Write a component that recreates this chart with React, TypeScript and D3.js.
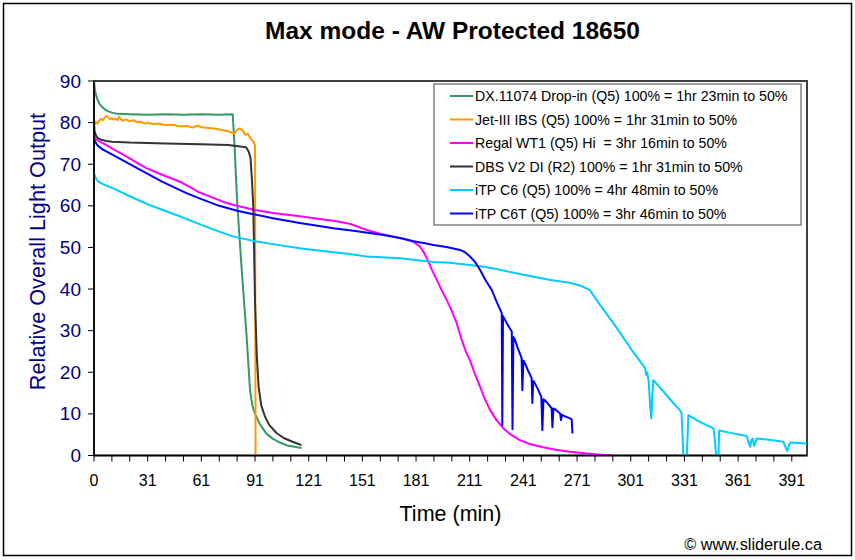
import React from "react";
import * as d3 from "d3";

const TITLE = "Max mode - AW Protected 18650";
const X_LABEL = "Time (min)";
const Y_LABEL = "Relative Overall Light Output";
const CREDIT = "© www.sliderule.ca";

const X_TICK_POS = [0, 30, 60, 90, 120, 150, 180, 210, 240, 270, 300, 330, 360, 390];
const X_TICK_LABELS = ["0", "31", "61", "91", "121", "151", "181", "211", "241", "271", "301", "331", "361", "391"];
const Y_TICKS = [0, 10, 20, 30, 40, 50, 60, 70, 80, 90];

const SERIES_NAMES = [
  "DX.11074 Drop-in (Q5) 100% = 1hr 23min to 50%",
  "Jet-III IBS (Q5) 100% = 1hr 31min to 50%",
  "Regal WT1 (Q5) Hi  = 3hr 16min to 50%",
  "DBS V2 DI (R2) 100% = 1hr 31min to 50%",
  "iTP C6 (Q5) 100% = 4hr 48min to 50%",
  "iTP C6T (Q5) 100% = 3hr 46min to 50%",
];
const SERIES_COLORS = ["#339966", "#FF9900", "#FF00FF", "#333333", "#00CCFF", "#0000FF"];

const dxData: [number, number][] = [
  [0, 90], [0.5, 88], [1, 86.8], [2, 85.5], [3, 84.6], [4, 84], [6, 83.2], [8, 82.7], [10, 82.4], [13, 82.1],
  [20, 82], [30, 81.9], [40, 82], [50, 81.9], [60, 82], [70, 81.9], [77.5, 82], [78.5, 75], [80, 61],
  [82.5, 45], [85.3, 28.6], [87.2, 15.7], [88.5, 12], [90, 10], [93, 7.3], [96.5, 5.2], [100, 4],
  [104, 3.1], [108, 2.4], [112, 2.1], [116, 1.8],
];
const jetData: [number, number][] = [
  [0, 79.5], [1, 80.2], [2, 79.8], [3, 80.5], [4, 80.9], [5, 80.6], [6, 81.2], [7, 81.6], [8, 81.3], [9, 80.8],
  [10, 81.1], [11, 80.7], [12, 81], [13, 80.6], [14, 81.4], [15, 80.9], [16, 80.4], [18, 80.8], [20, 80.3],
  [22, 80.6], [24, 80.1], [26, 80.2], [28, 79.8], [30, 80], [33, 79.6], [36, 79.8], [40, 79.4], [44, 79.5],
  [48, 79.1], [52, 79.2], [55, 78.8], [58, 79.3], [60, 78.9], [64, 78.7], [68, 78.5], [72, 78.2], [75, 77.9],
  [77, 77.6], [78.5, 77.4], [80, 78.3], [81.5, 78.6], [83, 78.2], [84.5, 77.1], [86, 77.3], [87.5, 76.2],
  [89, 75.5], [90, 74.5], [90.3, 0],
];
const regalData: [number, number][] = [
  [0, 77], [1, 76], [3, 75.5], [7, 74.6], [12, 73.3], [20, 71.4], [25, 70.1], [29.5, 69], [35, 68], [42, 66.8],
  [48, 65.8], [55, 64.2], [59, 63.2], [65, 62.2], [72, 61], [78, 60.2], [90, 59], [100, 58.3], [115, 57.5],
  [125, 56.9], [133.8, 56.4], [143, 55.7], [152.4, 54.2], [160, 53.3], [167.3, 52.6], [173, 52], [178.5, 51.4],
  [182.2, 50.2], [184.5, 48.7], [186.9, 46.6], [189, 44.5], [191.6, 42.2], [194, 40], [197.1, 37.4], [200, 34.7],
  [202.7, 31.8], [205.5, 27.8], [208, 24.8], [210, 23], [213, 19.5], [215.8, 16.5], [218.5, 13.5], [221.4, 10.9],
  [225, 8.5], [228.8, 6.5], [233, 5], [238, 3.7], [244, 2.7], [251, 2], [258, 1.4], [266, 0.9], [275, 0.5],
  [283, 0.2], [290, 0.1],
];
const dbsData: [number, number][] = [
  [0, 80.5], [0.3, 78], [1, 77], [2, 76.3], [4, 75.9], [7, 75.6], [10, 75.4], [20, 75.2], [40, 75], [60, 74.8],
  [75, 74.6], [85, 74.1], [86.5, 73], [87.5, 71.5], [88.3, 66], [89, 60], [90, 37], [91, 24], [92, 16.5],
  [93.5, 12], [95.6, 9.3], [98, 7.3], [102, 5.4], [106, 4.2], [111, 3.3], [116, 2.5],
];
const c6Data: [number, number][] = [
  [0, 68], [0.8, 66.8], [2.4, 65.8], [5, 65.2], [10.8, 64.2], [20, 62.3], [31, 60.2], [46, 57.8], [59, 55.6],
  [70, 53.8], [78, 52.6], [90, 51.5], [100, 50.8], [115, 49.8], [130, 49], [143, 48.4], [152.4, 47.8],
  [171, 47.4], [189.7, 46.5], [199, 46.3], [216, 45.5], [225, 44.8], [238, 43.6], [248, 42.8], [255, 42.2],
  [266, 41.5], [272, 40.8], [277, 39.8], [282.8, 36.2], [290, 32], [300, 25.7], [308, 21], [308.6, 19.4],
  [309.2, 20], [310.1, 17.4], [310.8, 12], [311.5, 8.9], [312, 14], [312.6, 18.1], [318, 15.5], [324, 12.5],
  [327.5, 10.9], [328.4, 10.1], [329.2, 2], [329.4, 0], [331.3, 0], [331.8, 5], [332.2, 9.7], [338, 8.2],
  [346.2, 6.5], [347, 4], [347.7, 0], [349, 0], [349.4, 6], [355, 5.5], [364.8, 4.7], [365.8, 3.2], [366.7, 2.1],
  [367.5, 3.8], [368.2, 4.1], [369, 2.3], [370.4, 4.1], [378, 3.7], [385.3, 3.3], [386.5, 2], [387.5, 1.1],
  [388.5, 2.6], [389.4, 3.1], [398.4, 2.9],
];
const c6tData: [number, number][] = [
  [0, 76], [0.5, 75.5], [2, 74.5], [5, 73.5], [10.8, 72.2], [20, 70], [29.5, 67.8], [38, 65.8], [46, 64.2],
  [52, 63], [59, 61.8], [70, 60], [80, 58.8], [89, 58], [100, 57], [115, 55.9], [125, 55.2], [133.8, 54.6],
  [145, 54], [161.7, 53], [172, 52.2], [178.5, 51.5], [185, 51], [189.7, 50.6], [197, 50.1], [204.6, 49.4],
  [207.5, 48.8], [210.2, 47.8], [213, 46.5], [215.8, 44.6], [219, 42], [222.3, 39.8], [225, 37], [227.9, 34.2],
  [228.2, 7.3], [228.6, 33.5], [229.7, 32.6], [231.5, 31.2], [233.5, 29.8], [233.9, 6.3], [234.4, 28.5],
  [235.3, 27.8], [237, 25.6], [239, 23.4], [239.4, 15.7], [240, 22.8], [240.5, 22.5], [242.5, 20.5],
  [244.6, 18.6], [245, 12.6], [245.5, 17.9], [246, 17.7], [248, 16], [250, 14.1], [250.6, 6.1], [251.2, 13.5],
  [252, 13.3], [254, 12.3], [255.8, 11.3], [256.2, 6.8], [256.8, 11.3], [258, 11], [260.5, 10.1], [261, 8.5],
  [261.6, 9.8], [262.3, 9.6], [264, 9.3], [266, 8.9], [267, 8.7], [267.4, 5.3],
];
const SERIES_DATA = [dxData, jetData, regalData, dbsData, c6Data, c6tData];

const X_MINOR = d3.range(0, 391, 10);

const FONT = "'Liberation Sans', Arial, Helvetica, sans-serif";

export default function App() {
  const W = 855, H = 560;
  const L = 94, R = 807, T = 81, B = 455.5;
  const x = d3.scaleLinear().domain([0, 398.5]).range([L, R]);
  const y = d3.scaleLinear().domain([0, 90]).range([B, T]);
  const line = d3.line<[number, number]>().x(d => x(d[0])).y(d => y(d[1]));

  const legX = 434, legY = 84, legW = 367, legH = 141;

  return (
    <svg width={W} height={H} style={{ position: "absolute", left: 0, top: 0, background: "#fff" }} fontFamily={FONT}>
      <rect x={0} y={0} width={W} height={H} fill="#fff" />
      <rect x={3.5} y={3.5} width={848} height={552} fill="none" stroke="#000" strokeWidth={1.5} />
      <text x={452.5} y={39} textAnchor="middle" fontSize={24.5} fontWeight="bold" fill="#000">{TITLE}</text>

      <rect x={L} y={T} width={R - L} height={B - T} fill="#fff" stroke="#404040" strokeWidth={2} />

      <defs>
        <clipPath id="plotclip">
          <rect x={L} y={T - 2} width={R - L} height={B - T + 4} />
        </clipPath>
      </defs>
      <g clipPath="url(#plotclip)">
        {SERIES_DATA.map((s, i) => (
          <path key={i} d={line(s) || ""} fill="none" stroke={SERIES_COLORS[i]} strokeWidth={2} strokeLinejoin="round" />
        ))}
      </g>

      {/* axes */}
      <line x1={L} y1={T} x2={L} y2={B} stroke="#000" strokeWidth={1.5} />
      <line x1={L} y1={B} x2={R} y2={B} stroke="#000" strokeWidth={1.5} />
      {Y_TICKS.map(t => (
        <g key={t}>
          <line x1={L - 6} x2={L} y1={y(t)} y2={y(t)} stroke="#000" strokeWidth={1} />
          <text x={L - 13} y={y(t) + 6.5} textAnchor="end" fontSize={19} fill="#000080">{t}</text>
        </g>
      ))}
      {X_MINOR.map(t => (
        <line key={t} x1={x(t)} x2={x(t)} y1={B} y2={B + 6} stroke="#000" strokeWidth={1} />
      ))}
      {X_TICK_POS.map((t, i) => (
        <text key={t} x={x(t)} y={486} textAnchor="middle" fontSize={16} fill="#000">{X_TICK_LABELS[i]}</text>
      ))}
      <text x={450.5} y={521} textAnchor="middle" fontSize={21.5} fill="#000">{X_LABEL}</text>
      <text transform={`translate(45,251.5) rotate(-90)`} textAnchor="middle" fontSize={21.7} fill="#000080">{Y_LABEL}</text>

      {/* legend */}
      <rect x={legX} y={legY} width={legW} height={legH} fill="#fff" stroke="#808080" strokeWidth={1.5} />
      {SERIES_NAMES.map((n, i) => {
        const cy = 96 + i * 23.5;
        return (
          <g key={n}>
            <line x1={450} x2={473} y1={cy} y2={cy} stroke={SERIES_COLORS[i]} strokeWidth={2} />
            <text x={475} y={cy + 5} fontSize={14.2} fill="#000" style={{ whiteSpace: "pre" }}>{n}</text>
          </g>
        );
      })}

      <text x={822} y={550} textAnchor="end" fontSize={16.3} fill="#000">{CREDIT}</text>
    </svg>
  );
}
